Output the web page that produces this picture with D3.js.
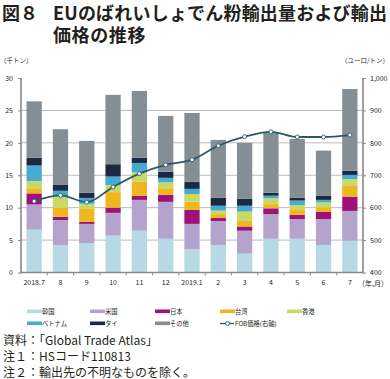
<!DOCTYPE html>
<html><head><meta charset="utf-8">
<script src="https://cdn.jsdelivr.net/npm/d3@7"></script>
<style>
html,body{margin:0;padding:0;background:#fff;}
svg{display:block;}
text{font-family:"Noto Sans CJK JP","Noto Sans",sans-serif;fill:#231f20;}
</style></head>
<body>
<svg id="c" width="390" height="379"></svg>
<script>
const months = ["2018.7","8","9","10","11","12","2019.1","2","3","4","5","6","7"];
const seriesNames = ["韓国","米国","日本","台湾","香港","ベトナム","タイ","その他"];
const colors = ["#b7d9e6","#b4a3cd","#9e117a","#efb620","#c7da66","#45abd2","#1b2943","#858d95"];
const korea   = [6.6,4.2,4.5,5.7,6.45,5.2,3.6,4.25,2.9,5.2,5.2,4.25,4.9];
const usa     = [3.9,3.9,3.0,3.5,4.75,5.7,3.9,3.7,3.55,3.8,3.05,4.0,4.6];
const japan   = [1.7,0.5,0.3,0.8,0.6,1.1,2.15,0.45,0.65,0.9,0.65,1.1,2.2];
const taiwan  = [0.8,1.4,2.0,2.4,2.2,1.0,1.25,0.6,0.85,0.65,0.85,0.7,1.65];
const hongkong= [1.1,1.7,0.8,1.1,1.45,0.9,1.2,0.55,1.45,0.9,0.65,0.75,1.05];
const vietnam = [2.4,0.9,0.9,1.3,1.45,0.7,0.8,0.75,0.9,0.4,0.7,0.4,0.65];
const thai    = [1.2,0.9,0.8,1.9,0.8,0.95,1.1,1.25,1.05,0.45,0.45,0.6,0.65];
const other   = [8.7,8.6,8.0,10.7,10.3,8.6,10.6,8.9,8.65,9.3,9.05,7.0,12.6];
const fob     = [620,638,617,664,705,732,748,791,819,834,818,818,824];
const leftTicks = [0,5,10,15,20,25,30];
const rightTicks = [400,500,600,700,800,900,1000];

const svg = d3.select("#c");
const x0 = 21, x1 = 363, yTop = 78, yBot = 272.5;
const x = d3.scaleBand().domain(months).range([x0,x1]).paddingInner(0.42).paddingOuter(0.21);
const y = d3.scaleLinear().domain([0,30]).range([yBot,yTop]);
const y2 = d3.scaleLinear().domain([400,1000]).range([yBot,yTop]);

// title
svg.append("text").attr("x",2).attr("y",19.5).attr("font-size",18).attr("font-weight","bold").text("図８");
svg.append("text").attr("x",53).attr("y",19.5).attr("font-size",18).attr("font-weight","bold")
  .attr("textLength",334).attr("lengthAdjust","spacing").text("EUのばれいしょでん粉輸出量および輸出");
svg.append("text").attr("x",53).attr("y",41.5).attr("font-size",18).attr("letter-spacing",0.6).attr("font-weight","bold").text("価格の推移");
svg.append("text").attr("x",0).attr("y",63).attr("font-size",6.5).text("（千トン）");
svg.append("text").attr("x",389).attr("y",63).attr("font-size",6.5).attr("text-anchor","end").text("（ユーロ/トン）");

// gridlines
svg.append("g").selectAll("line").data(leftTicks.filter(d=>d>0 && d<30)).join("line")
  .attr("x1",x0).attr("x2",x1).attr("y1",d=>y(d)).attr("y2",d=>y(d))
  .attr("stroke","#aaaaaa").attr("stroke-width",0.8);

// stacked bars
const table = months.map((m,i)=>{
  const o = {month:m};
  [korea,usa,japan,taiwan,hongkong,vietnam,thai,other].forEach((arr,k)=>o[seriesNames[k]]=arr[i]);
  return o;
});
const stack = d3.stack().keys(seriesNames)(table);
svg.append("g").selectAll("g").data(stack).join("g")
  .attr("fill",(d,i)=>colors[i])
  .selectAll("rect").data(d=>d).join("rect")
  .attr("x",d=>x(d.data.month)).attr("width",x.bandwidth())
  .attr("y",d=>y(d[1])).attr("height",d=>y(d[0])-y(d[1]));

// axes
const axL = svg.append("g").attr("transform",`translate(${x0},0)`)
  .call(d3.axisLeft(y).tickValues(leftTicks).tickSize(3).tickPadding(5));
const axR = svg.append("g").attr("transform",`translate(${x1},0)`)
  .call(d3.axisRight(y2).tickValues(rightTicks).tickSize(3).tickPadding(4).tickFormat(d3.format(",")));
const axB = svg.append("g").attr("transform",`translate(0,${yBot})`)
  .call(d3.axisBottom(x).tickSize(0).tickPadding(8));
[axL,axR,axB].forEach(g=>{
  g.select(".domain").attr("stroke","#8a8a8a").attr("stroke-width",1.6);
  g.selectAll(".tick line").attr("stroke","#8a8a8a");
  g.selectAll(".tick text").attr("font-size",7).attr("fill","#231f20").attr("font-family","'Liberation Sans','Noto Sans',sans-serif");
});
axL.select(".domain").attr("d",`M0,${yTop}V${yBot+1}`);
axR.select(".domain").attr("d",`M0,${yTop}V${yBot+1}`);
axB.select(".domain").attr("d",`M${x0},0H${x1}`);
// boundary ticks on x axis
const bounds = d3.range(1,months.length).map(i=>x(months[i]) - x.step()*0.21);
svg.append("g").selectAll("line").data(bounds).join("line")
  .attr("x1",d=>d).attr("x2",d=>d).attr("y1",yBot).attr("y2",yBot+3)
  .attr("stroke","#8a8a8a").attr("stroke-width",1);
svg.append("text").attr("x",388).attr("y",286).attr("font-size",7).attr("text-anchor","end").text("（年,月）");

// FOB line
const cx = m => x(m)+x.bandwidth()/2;
const line = d3.line().x((d,i)=>cx(months[i])).y(d=>y2(d)).curve(d3.curveMonotoneX);
svg.append("path").datum(fob).attr("d",line).attr("fill","none").attr("stroke","#2d5868").attr("stroke-width",1.8);
svg.append("g").selectAll("circle").data(fob).join("circle")
  .attr("cx",(d,i)=>cx(months[i])).attr("cy",d=>y2(d)).attr("r",2)
  .attr("fill","#fff").attr("stroke","#2d5868").attr("stroke-width",0.9);

// legend
const legItems = [
  {name:"韓国",c:colors[0],col:27,row:0},
  {name:"米国",c:colors[1],col:90,row:0},
  {name:"日本",c:colors[2],col:155,row:0},
  {name:"台湾",c:colors[3],col:220,row:0},
  {name:"香港",c:colors[4],col:287,row:0},
  {name:"ベトナム",c:colors[5],col:27,row:1},
  {name:"タイ",c:colors[6],col:90,row:1},
  {name:"その他",c:colors[7],col:155,row:1}
];
const rowY = [311.5,323.5];
const lg = svg.append("g");
legItems.forEach(d=>{
  lg.append("rect").attr("x",d.col).attr("y",rowY[d.row]-2).attr("width",15).attr("height",3.6).attr("fill",d.c);
  lg.append("text").attr("x",d.col+15).attr("y",rowY[d.row]+2.3).attr("font-size",6.3).text(d.name);
});
lg.append("line").attr("x1",220).attr("x2",234).attr("y1",rowY[1]).attr("y2",rowY[1]).attr("stroke","#2d5868").attr("stroke-width",1.3);
lg.append("circle").attr("cx",227.5).attr("cy",rowY[1]).attr("r",2).attr("fill","#fff").attr("stroke","#2d5868").attr("stroke-width",0.9);
lg.append("text").attr("x",235).attr("y",rowY[1]+2.3).attr("font-size",6.3).text("FOB価格(右軸)");

// notes
svg.append("text").attr("x",3).attr("y",345).attr("font-size",12).text("資料：「Global Trade Atlas」");
svg.append("text").attr("x",3).attr("y",361).attr("font-size",12).text("注１：HSコード110813");
svg.append("text").attr("x",3).attr("y",377).attr("font-size",12).text("注２：輸出先の不明なものを除く。");
</script>
</body></html>
